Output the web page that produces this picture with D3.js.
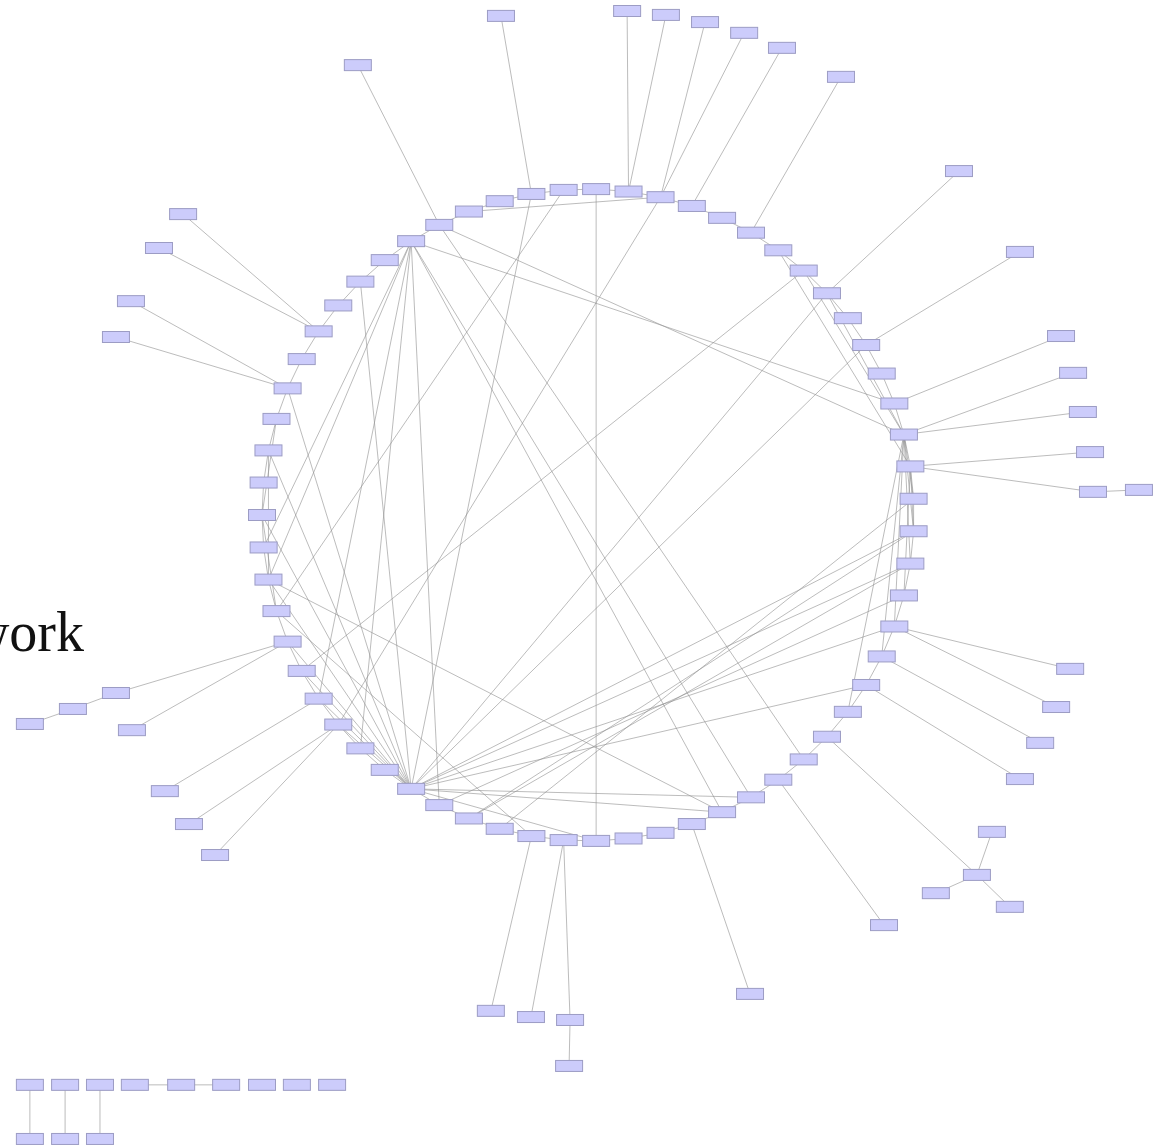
<!DOCTYPE html>
<meta charset="utf-8">
<html>
<script src="https://d3js.org/d3.v7.min.js"></script>
<body style="margin:0; background:#fff;">
<style>
    .edge { stroke: #8f8f8f; stroke-width: 0.75; stroke-opacity: 0.8; fill: none; }
    .node { fill: #ccccfb; stroke: #9c9cc4; stroke-width: 1; }
    .title { font-family: "Liberation Serif", "DejaVu Serif", serif; font-size: 56px; fill: #111; }
</style>
<div id="graph"></div>
<script>
    //ring of the big component, nodes counted clockwise from the top
    var ringSize = 63;
    var ringStart = 0.25;

    //chords inside the ring (ring index to ring index)
    var chords = [
        [59, 2], [0, 31],
        [57, 12], [58, 13], [58, 24], [57, 26], [57, 27], [57, 36],
        [57, 46], [57, 45], [57, 41], [57, 39],
        [55, 37], [61, 37], [62, 44], [2, 40],
        [7, 42], [8, 37], [10, 37], [6, 14], [7, 13], [8, 13],
        [13, 15], [13, 16], [13, 17], [13, 19], [13, 20], [13, 22], [14, 16], [14, 18],
        [17, 37], [21, 37], [16, 37], [19, 37], [18, 36], [15, 34], [16, 35], [17, 35],
        [37, 40], [37, 41], [37, 42], [37, 43], [37, 45], [37, 47], [37, 49], [37, 51],
        [37, 26], [37, 27], [37, 31], [44, 33], [45, 27],
        [49, 45], [50, 47], [47, 44]
    ];

    //outer nodes, in ring units (centre 0,0, radius 1, v grows downward)
    var outerIds = ["a1", "a2", "a3", "a4", "a5", "a6", "a7", "a8",
        "a9", "a10", "a11", "a12", "a13", "a14", "a15", "a16",
        "a17", "a18", "a19", "a20", "a21", "a22", "a23", "a24", "a25",
        "a26", "a27", "a28", "a29", "a30",
        "a31", "a32", "a33", "a34", "a35", "a36", "a37",
        "a38", "a39", "a40", "a41"];
    var outerU = [-0.267, -0.706, 0.120, 0.239, 0.359, 0.479, 0.595, 0.776,
        1.138, 1.325, 1.451, 1.488, 1.518, 1.540, 1.549, 1.690,
        1.479, 1.436, 1.387, 1.325, 1.193, 1.239, 1.067, 1.294, 0.908,
        0.497, -0.298, -0.175, -0.055, -0.058,
        -1.144, -1.224, -1.298, -1.399, -1.448, -1.580, -1.712,
        -1.242, -1.316, -1.402, -1.448];
    var outerV = [-1.531, -1.380, -1.546, -1.534, -1.512, -1.479, -1.433, -1.344,
        -1.055, -0.807, -0.549, -0.436, -0.316, -0.193, -0.071, -0.077,
        0.472, 0.589, 0.699, 0.810, 1.104, 0.972, 1.160, 1.202, 1.258,
        1.469, 1.521, 1.540, 1.549, 1.690,
        1.043, 0.948, 0.847, 0.660, 0.546, 0.595, 0.641,
        -0.923, -0.819, -0.656, -0.546];
    var outerParent = ["r61", "r58", "r1", "r1", "r2", "r2", "r3", "r5",
        "r8", "r10", "r12", "r13", "r13", "r14", "r14", "a15",
        "r19", "r19", "r20", "r21", "r23", "a21", "a21", "a21", "r25",
        "r28", "r33", "r32", "r32", "a29",
        "r40", "r40", "r41", "r43", "r43", "a35", "a36",
        "r53", "r53", "r51", "r51"];

    //small separate components below the graph
    var looseIds = ["b1", "b2", "b3", "b4", "b5", "b6", "b7", "b8", "b9", "b10", "b11", "b12"];
    var looseU = [-1.712, -1.604, -1.497, -1.390, -1.248, -1.110, -1.000, -0.893, -0.785, -1.712, -1.604, -1.497];
    var looseV = [1.748, 1.748, 1.748, 1.748, 1.748, 1.748, 1.748, 1.748, 1.748, 1.914, 1.914, 1.914];
    var looseLinks = [["b1", "b10"], ["b2", "b11"], ["b3", "b12"], ["b4", "b5"], ["b5", "b6"]];

    var width = 1164, height = 1147;
    var nodeW = 27, nodeH = 11;

    var svg = d3.select("#graph").append("svg")
        .attr("width", width)
        .attr("height", height);

    //scales: ring units to pixels
    var x = d3.scaleLinear().domain([-1, 1]).range([262, 914]);
    var y = d3.scaleLinear().domain([-1, 1]).range([189, 841]);
    var angle = d3.scaleLinear().domain([0, ringSize]).range([0, 2 * Math.PI]);

    //build the node table
    var nodes = {};
    d3.range(ringSize).forEach(function(i) {
        var a = angle(i + ringStart);
        nodes["r" + i] = {u: Math.sin(a), v: -Math.cos(a)};
    });
    outerIds.forEach(function(id, i) {
        nodes[id] = {u: outerU[i], v: outerV[i]};
    });
    looseIds.forEach(function(id, i) {
        nodes[id] = {u: looseU[i], v: looseV[i]};
    });

    //build the edge list
    var links = [];
    d3.range(ringSize).forEach(function(i) {
        links.push(["r" + i, "r" + ((i + 1) % ringSize)]);
    });
    chords.forEach(function(c) { links.push(["r" + c[0], "r" + c[1]]); });
    outerIds.forEach(function(id, i) { links.push([outerParent[i], id]); });
    looseLinks.forEach(function(l) { links.push(l); });

    //title, partly off the left edge
    svg.append("text")
        .attr("class", "title")
        .attr("x", 84)
        .attr("y", 651)
        .attr("text-anchor", "end")
        .text("Network");

    //edges
    svg.append("g").selectAll("line")
        .data(links)
        .enter().append("line")
        .attr("class", "edge")
        .attr("x1", function(d) { return x(nodes[d[0]].u); })
        .attr("y1", function(d) { return y(nodes[d[0]].v); })
        .attr("x2", function(d) { return x(nodes[d[1]].u); })
        .attr("y2", function(d) { return y(nodes[d[1]].v); });

    //nodes
    svg.append("g").selectAll("rect")
        .data(Object.keys(nodes))
        .enter().append("rect")
        .attr("class", "node")
        .attr("x", function(d) { return x(nodes[d].u) - nodeW / 2; })
        .attr("y", function(d) { return y(nodes[d].v) - nodeH / 2; })
        .attr("width", nodeW)
        .attr("height", nodeH);
</script>
</body>
</html>
